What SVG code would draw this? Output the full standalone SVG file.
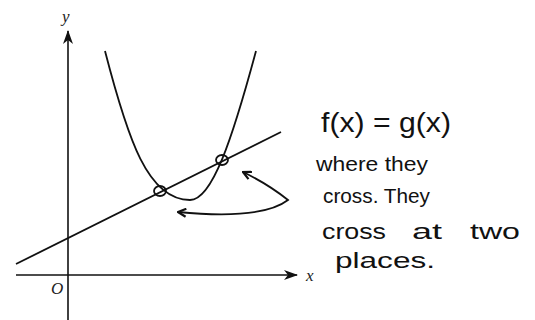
<svg xmlns="http://www.w3.org/2000/svg" width="535" height="320" viewBox="0 0 535 320">
<style>
.ax{stroke:#111;stroke-width:1.6;fill:none}
.cv{stroke:#111;stroke-width:1.8;fill:none}
.lab{font-family:"Liberation Serif",serif;font-style:italic;font-size:17px;fill:#222}
.hw{font-family:"Liberation Sans","DejaVu Sans",sans-serif;fill:#111}
</style>
<defs>
<marker id="ah" viewBox="0 0 14 10" refX="13" refY="5" markerWidth="14" markerHeight="10" markerUnits="userSpaceOnUse" orient="auto">
<path d="M0,0 L14,5 L0,10 L4,5 Z" fill="#111"/>
</marker>
<marker id="hh" viewBox="0 0 10 10" refX="9" refY="5" markerWidth="10" markerHeight="10" markerUnits="userSpaceOnUse" orient="auto-start-reverse">
<path d="M1,1 L9,5 L1,9" fill="none" stroke="#111" stroke-width="2.2"/>
</marker>
</defs>
<rect width="535" height="320" fill="#fff"/>
<g id="axes">
<line class="ax" x1="68" y1="320" x2="68" y2="31" marker-end="url(#ah)"/>
<line class="ax" x1="16" y1="275" x2="297" y2="275" marker-end="url(#ah)"/>
<text class="lab" x="62" y="22">y</text>
<text class="lab" x="306" y="281">x</text>
<text class="lab" x="51" y="294">O</text>
</g>
<g id="graphs">
<line class="cv" x1="16" y1="264" x2="281" y2="132"/>
<path class="cv" d="M105,51 C128,140 148,200 190,200 C212,200 232,140 256,51"/>
<ellipse class="cv" cx="160" cy="191" rx="6" ry="5" stroke-width="1.4"/>
<ellipse class="cv" cx="222" cy="160" rx="6" ry="5" stroke-width="1.4"/>
</g>
<g id="connectors">
<path class="cv" d="M243,172 Q268,184 288,200 Q262,220 178,212" marker-start="url(#hh)" marker-end="url(#hh)"/>
</g>
<g id="note" class="hw">
<text x="321" y="132" font-size="28" textLength="130" lengthAdjust="spacingAndGlyphs">f(x) = g(x)</text>
<text x="316" y="171" font-size="21" textLength="112" lengthAdjust="spacingAndGlyphs">where they</text>
<text x="323" y="203" font-size="21" textLength="107" lengthAdjust="spacingAndGlyphs">cross. They</text>
<text y="239" font-size="22"><tspan x="322" textLength="64" lengthAdjust="spacingAndGlyphs">cross</tspan> <tspan x="412" textLength="30" lengthAdjust="spacingAndGlyphs">at</tspan> <tspan x="470" textLength="50" lengthAdjust="spacingAndGlyphs">two</tspan></text>
<text x="335" y="268" font-size="22" textLength="100" lengthAdjust="spacingAndGlyphs">places.</text>
</g>
</svg>
